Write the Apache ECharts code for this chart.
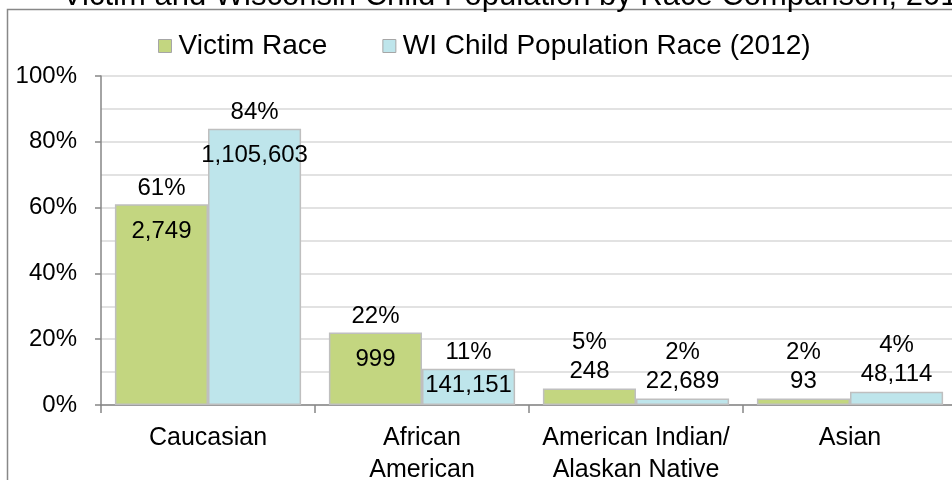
<!DOCTYPE html>
<html>
<head>
<meta charset="utf-8">
<style>
  html, body { margin: 0; padding: 0; background: #fff; }
  #chart { width: 952px; height: 480px; }
</style>
<script src="https://cdn.jsdelivr.net/npm/echarts@6/dist/echarts.min.js"></script>
</head>
<body>
<div id="chart"></div>
<script>
// categories
var races = ['Caucasian', 'African\nAmerican', 'American Indian/\nAlaskan Native', 'Asian'];
// share of each group, %
var victimPct = [61, 22, 5, 2];
var populationPct = [84, 11, 2, 4];
// counts shown on the bars
var victimCount = [2749, 999, 248, 93];
var populationCount = [1105603, 141151, 22689, 48114];
var yTicks = [0, 20, 40, 60, 80, 100];

var FONT = 'Liberation Sans';

function withCommas(n) {
	return String(n).replace(/\B(?=(\d{3})+(?!\d))/g, ',');
}

//百分比标签：在柱顶，短柱时往上抬给数量标签让位
function pctItems(pcts) {
	return pcts.map(function (v) {
		return {
			value: v,
			label: { distance: v >= 10 ? 4 : 34 }
		};
	});
}

//数量标签：高柱放在柱内顶部，矮柱放在柱顶上方
function countItems(pcts, counts) {
	return pcts.map(function (v, i) {
		return {
			value: v,
			count: counts[i],
			label: v >= 10
				? { position: 'insideTop', distance: v >= 15 ? 15 : 5 }
				: { position: 'top', distance: 5 }
		};
	});
}

var barBorder = { borderColor: '#bfbfbf', borderWidth: 1.5 };
var labelText = { color: '#000', fontFamily: FONT, fontSize: 24 };

var chart = echarts.init(document.getElementById('chart'));

chart.setOption({
	animation: false,
	textStyle: { fontFamily: FONT },
	graphic: [
		{
			type: 'rect',
			shape: { x: 7.5, y: 9.5, width: 1000, height: 1000 },
			style: { fill: 'none', stroke: '#888', lineWidth: 1.5 },
			z: -1
		},
		{
			type: 'text',
			x: 62,
			y: 12,
			style: {
				text: 'Victim and Wisconsin Child Population by Race Comparison, 2012',
				fontFamily: FONT,
				fontSize: 31,
				fill: '#000',
				verticalAlign: 'bottom'
			}
		}
	],
	legend: {
		left: 153,
		top: 27,
		icon: 'rect',
		itemWidth: 13,
		itemHeight: 13,
		itemGap: 55,
		data: ['Victim Race', 'WI Child Population Race (2012)'],
		itemStyle: { borderColor: '#a6a6a6', borderWidth: 1 },
		textStyle: { color: '#000', fontFamily: FONT, fontSize: 28, padding: [0, 0, 0, 2] }
	},
	grid: {
		left: 101, top: 76, width: 856, height: 329,
		containLabel: false,
		outerBoundsMode: 'none'
	},
	xAxis: [
		{
			type: 'category',
			data: races,
			axisLine: { lineStyle: { color: '#868686', width: 1.5 } },
			axisTick: { show: true, length: 8, lineStyle: { color: '#868686', width: 1.5 } },
			axisLabel: {
				color: '#000', fontFamily: FONT, fontSize: 25, lineHeight: 32, margin: 17,
				interval: 0
			}
		},
		{
			type: 'category',
			data: races,
			show: false
		}
	],
	yAxis: {
		type: 'value',
		min: yTicks[0],
		max: yTicks[yTicks.length - 1],
		interval: yTicks[1] - yTicks[0],
		axisLine: { show: true, lineStyle: { color: '#868686', width: 1.5 } },
		axisTick: { show: true, length: 6, lineStyle: { color: '#868686', width: 1.5 } },
		axisLabel: {
			color: '#000', fontFamily: FONT, fontSize: 24, margin: 24,
			formatter: '{value}%'
		},
		splitLine: { lineStyle: { color: '#d9d9d9', width: 1.5 } },
		minorTick: { show: false, splitNumber: 2 },
		minorSplitLine: { show: true, lineStyle: { color: '#d9d9d9', width: 1.5 } }
	},
	series: [
		{
			name: 'Victim Race',
			type: 'bar',
			xAxisIndex: 0,
			data: pctItems(victimPct),
			barGap: 0,
			barCategoryGap: '13%',
			itemStyle: Object.assign({ color: '#c3d680' }, barBorder),
			label: Object.assign({ show: true, position: 'top', formatter: '{c}%' }, labelText)
		},
		{
			name: 'WI Child Population Race (2012)',
			type: 'bar',
			xAxisIndex: 0,
			data: pctItems(populationPct),
			barGap: 0,
			barCategoryGap: '13%',
			itemStyle: Object.assign({ color: '#bee5eb' }, barBorder),
			label: Object.assign({ show: true, position: 'top', formatter: '{c}%' }, labelText)
		},
		//数量标签层（透明柱，与上面两组同位）
		{
			name: 'victimCount',
			type: 'bar',
			xAxisIndex: 1,
			data: countItems(victimPct, victimCount),
			barGap: 0,
			barCategoryGap: '13%',
			silent: true,
			itemStyle: { color: 'transparent', borderWidth: 0 },
			label: Object.assign({
				show: true,
				formatter: function (p) { return withCommas(p.data.count); }
			}, labelText)
		},
		{
			name: 'populationCount',
			type: 'bar',
			xAxisIndex: 1,
			data: countItems(populationPct, populationCount),
			barGap: 0,
			barCategoryGap: '13%',
			silent: true,
			itemStyle: { color: 'transparent', borderWidth: 0 },
			label: Object.assign({
				show: true,
				formatter: function (p) { return withCommas(p.data.count); }
			}, labelText)
		}
	]
});
</script>
</body>
</html>
